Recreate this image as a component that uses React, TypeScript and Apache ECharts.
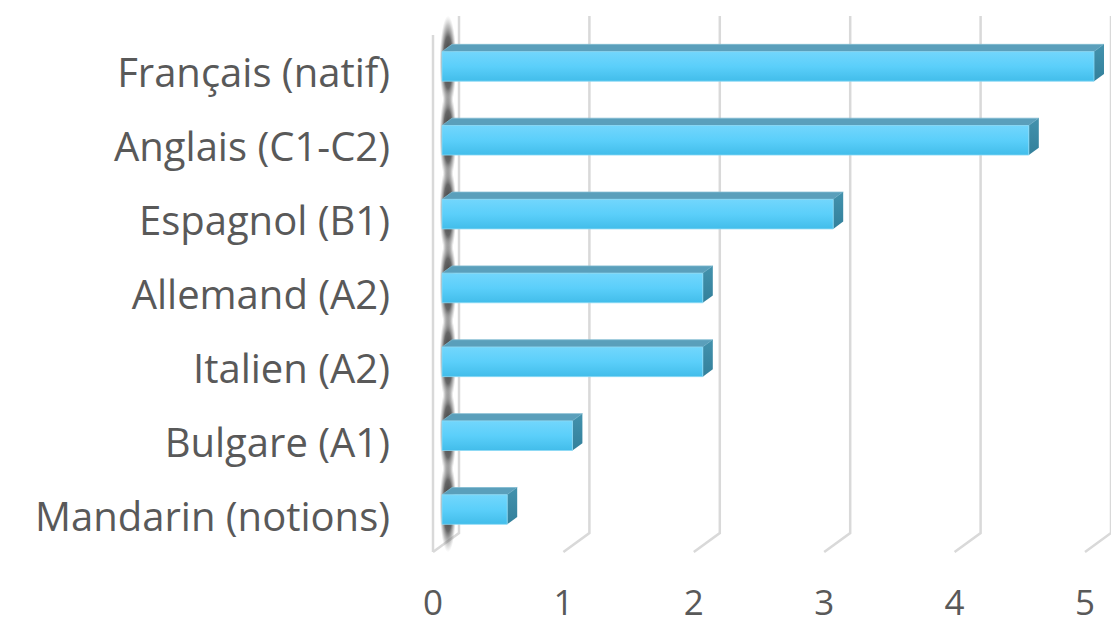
import React, { useEffect, useRef } from "react";
import * as echarts from "echarts";

const categories = [
  "Français (natif)",
  "Anglais (C1-C2)",
  "Espagnol (B1)",
  "Allemand (A2)",
  "Italien (A2)",
  "Bulgare (A1)",
  "Mandarin (notions)",
];
const levels = [5, 4.5, 3, 2, 2, 1, 0.5];
const ticks = [0, 1, 2, 3, 4, 5];

const FONT = "'Open Sans', 'Noto Sans', sans-serif";
const TEXT = "#595959";
const GRID = "#d9d9d9";
// depth offsets
const BACK_DX = 26;
const BACK_DY = -19;
const FRONT_DX = 9;
const FRONT_DY = -5.5;
const BAR_DX = 10;
const BAR_DY = -7.3;

export default function App() {
  const ref = useRef<HTMLDivElement>(null);
  useEffect(() => {
    document.body.style.margin = "0";
    const chart = echarts.init(ref.current!, null, { renderer: "svg" });
    const barData = levels.map((v, i) => [i, v]);
    chart.setOption({
      animation: false,
      backgroundColor: "#ffffff",
      grid: { left: 433, right: 26, top: 35, bottom: 71, containLabel: false },
      xAxis: {
        type: "value",
        min: 0,
        max: 5,
        interval: 1,
        axisLine: { show: false },
        axisTick: { show: false },
        splitLine: { show: false },
        axisLabel: {
          color: TEXT,
          fontSize: 35,
          lineHeight: 30,
          fontFamily: FONT,
          margin: 34,
        },
      },
      yAxis: {
        type: "category",
        data: categories,
        inverse: true,
        axisLine: { show: false },
        axisTick: { show: false },
        splitLine: { show: false },
        axisLabel: {
          color: TEXT,
          fontSize: 40,
          fontFamily: FONT,
          margin: 43,
        },
      },
      series: [
        {
          type: "custom",
          z: 1,
          silent: true,
          data: ticks.map((t) => [t, 0]),
          renderItem: (params: any, api: any) => {
            const v = api.value(0);
            const cs = params.coordSys;
            const x = api.coord([v, 0])[0];
            const top = cs.y;
            const bot = cs.y + cs.height;
            const children: any[] = [
              {
                type: "polyline",
                shape: {
                  points: [
                    [x + BACK_DX, top + BACK_DY],
                    [x + BACK_DX, bot + BACK_DY],
                    [x, bot],
                  ],
                },
                style: { stroke: GRID, lineWidth: 2.5, fill: null },
              },
            ];
            if (v === 0) {
              children.push({
                type: "line",
                shape: { x1: x, y1: top, x2: x, y2: bot },
                style: { stroke: GRID, lineWidth: 2.5 },
              });
            }
            return { type: "group", children };
          },
        },
        {
          type: "custom",
          z: 2,
          silent: true,
          data: barData,
          renderItem: (params: any, api: any) => {
            const cat = api.value(0);
            const p0 = api.coord([0, cat]);
            const band = api.size([0, 1])[1];
            const h = band * 0.4;
            const cy = p0[1] + FRONT_DY - 4;
            return {
              type: "ellipse",
              shape: { cx: p0[0] + 15, cy, rx: 8.5, ry: h / 2 + 32 },
              style: {
                fill: new echarts.graphic.RadialGradient(0.5, 0.5, 0.5, [
                  { offset: 0, color: "rgba(35,35,35,0.95)" },
                  { offset: 0.55, color: "rgba(65,65,65,0.8)" },
                  { offset: 0.8, color: "rgba(110,110,110,0.4)" },
                  { offset: 1, color: "rgba(160,160,160,0)" },
                ]),
              },
            };
          },
        },
        {
          type: "custom",
          z: 3,
          silent: true,
          data: barData,
          renderItem: (params: any, api: any) => {
            const cat = api.value(0);
            const v = api.value(1);
            const p0 = api.coord([0, cat]);
            const p1 = api.coord([v, cat]);
            const band = api.size([0, 1])[1];
            const h = band * 0.4;
            const x0 = p0[0] + FRONT_DX;
            const x1 = p1[0] + FRONT_DX;
            const yT = p0[1] + FRONT_DY - h / 2;
            const yB = yT + h;
            return {
              type: "group",
              children: [
                {
                  type: "polygon",
                  shape: {
                    points: [
                      [x0, yT],
                      [x0 + BAR_DX, yT + BAR_DY],
                      [x1 + BAR_DX, yT + BAR_DY],
                      [x1, yT],
                    ],
                  },
                  style: {
                    fill: "#5a9fbb",
                    stroke: "#7fbad0",
                    lineWidth: 0.8,
                  },
                },
                {
                  type: "polygon",
                  shape: {
                    points: [
                      [x1, yT],
                      [x1 + BAR_DX, yT + BAR_DY],
                      [x1 + BAR_DX, yB + BAR_DY],
                      [x1, yB],
                    ],
                  },
                  style: {
                    fill: new echarts.graphic.LinearGradient(0, 0, 0, 1, [
                      { offset: 0, color: "#4392ad" },
                      { offset: 1, color: "#33809b" },
                    ]),
                  },
                },
                {
                  type: "rect",
                  shape: { x: x0, y: yT, width: x1 - x0, height: h },
                  style: {
                    fill: new echarts.graphic.LinearGradient(0, 0, 0, 1, [
                      { offset: 0, color: "#72d6fc" },
                      { offset: 0.5, color: "#5bcffa" },
                      { offset: 1, color: "#42bdea" },
                    ]),
                    stroke: "#8ad9f5",
                    lineWidth: 0.8,
                  },
                },
              ],
            };
          },
        },
      ],
    });
    return () => chart.dispose();
  }, []);
  return <div ref={ref} style={{ width: 1111, height: 623 }} />;
}
